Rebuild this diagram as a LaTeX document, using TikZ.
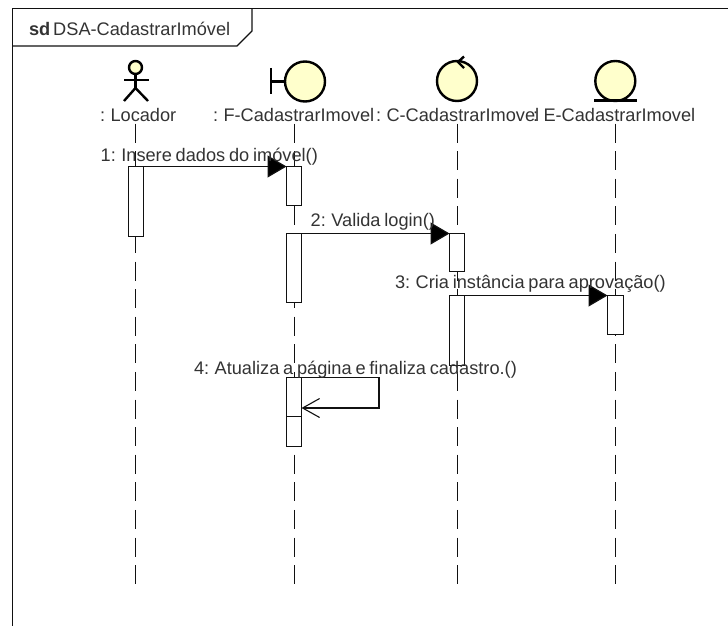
\documentclass[tikz,border=0pt]{standalone}
\usepackage{fontspec}
\setmainfont[WordSpace=0.75]{Liberation Sans}
\usetikzlibrary{arrows.meta}
\definecolor{umlfill}{HTML}{FFFFCC}
\definecolor{umlink}{HTML}{111111}
\definecolor{umltext}{HTML}{333333}
\tikzset{
  frameline/.style={draw=umlink,line width=1.3pt},
  lbl/.style={anchor=base west,inner sep=0pt,outer sep=0pt,text=umltext,font=\fontsize{18.2}{20}\selectfont},
  lifeline/.style={draw=umlink,line width=1.2pt,dash pattern=on 19pt off 8.6pt},
  act/.style={draw=umlink,fill=white,line width=1.1pt,minimum width=15pt,inner sep=0pt,outer sep=0pt,rectangle},
  msg/.style={draw=umlink,line width=1.2pt,-{Triangle[length=19pt,width=22pt,fill=black]}},
  selfmsg/.style={draw=umlink,line width=1.2pt,-{Straight Barb[length=17pt,width=19pt,line width=1.1pt]}},
  icon/.style={draw=black,fill=umlfill,line width=2.4pt,circle,minimum size=40pt,inner sep=0pt,outer sep=0pt},
  stroke/.style={draw=black,line width=2.4pt},
  headicon/.style={draw=black,fill=umlfill,line width=2.4pt,circle,minimum size=13pt,inner sep=0pt,outer sep=0pt},
}
\begin{document}
\begin{tikzpicture}[x=1pt,y=-1pt]
\useasboundingbox (0,0) rectangle (728,626);
% frame
\coordinate (fbl) at (12.5,626);
\coordinate (ftl) at (12.5,8.5);
\coordinate (ftr) at (728,8.5);
\coordinate (tabtop) at (252,8.5);
\coordinate (tabmid) at (252,31);
\coordinate (tabcut) at (237,46);
\coordinate (tableft) at (12.5,46);
\draw[frameline] (fbl) -- (ftl) -- (ftr);
\draw[frameline] (tabtop) -- (tabmid) -- (tabcut) -- (tableft);
\node[lbl] (title) at (29,36) {\textbf{sd}\kern3pt DSA-CadastrarImóvel};
% lifeline ends
\coordinate (l1a) at (135.5,123.5); \coordinate (l1b) at (135.5,585);
\coordinate (l2a) at (294.5,123.5); \coordinate (l2b) at (294.5,585);
\coordinate (l3a) at (457.5,123.5); \coordinate (l3b) at (457.5,585);
\coordinate (l4a) at (615.5,123.5); \coordinate (l4b) at (615.5,585);
\draw[lifeline] (l1a) -- (l1b);
\draw[lifeline] (l2a) -- (l2b);
\draw[lifeline] (l3a) -- (l3b);
\draw[lifeline] (l4a) -- (l4b);
% actor
\node[headicon] (head) at (135.5,67.5) {};
\coordinate (hip) at (135.5,88);
\coordinate (armL) at (124,80);
\coordinate (armR) at (149,80);
\coordinate (legL) at (124,101);
\coordinate (legR) at (148,101);
\draw[stroke] (head.south) -- (hip);
\draw[stroke] (armL) -- (armR);
\draw[stroke] (legL) -- (hip) -- (legR);
% boundary
\node[icon] (bnd) at (305,81.5) {};
\coordinate (bndT) at (271,68);
\coordinate (bndB) at (271,93.5);
\coordinate (bndM) at (271,81.5);
\draw[stroke] (bndT) -- (bndB);
\draw[stroke] (bndM) -- (bnd.west);
% control
\node[icon] (ctl) at (457,81) {};
\coordinate (ctlA) at (464,56.5);
\coordinate (ctlB) at (458,62);
\coordinate (ctlC) at (464,68);
\draw[stroke] (ctlA) -- (ctlB) -- (ctlC);
% entity
\node[icon] (ent) at (615.3,81) {};
\coordinate (entL) at (594,100.5);
\coordinate (entR) at (636.5,100.5);
\draw[stroke] (entL) -- (entR);
% lifeline names
\node[lbl] (n1) at (100,121.7) {: Locador};
\node[lbl] (n2) at (213,121.7) {: F-CadastrarImovel};
\node[lbl] (n3) at (376,121.7) {: C-CadastrarImovel};
\node[lbl] (n4) at (533,121.7) {: E-CadastrarImovel};
% activations
\node[act,minimum height=70pt] (a1) at (136,201.5) {};
\node[act,minimum height=39pt] (f1) at (294,186) {};
\node[act,minimum height=69pt] (f2) at (294,268) {};
\node[act,minimum height=39pt] (f3) at (294,397) {};
\node[act,minimum height=30pt] (f4) at (294,431.5) {};
\node[act,minimum height=38pt] (c1) at (457,252.5) {};
\node[act,minimum height=70pt] (c2) at (457,330.5) {};
\node[act,minimum height=39pt,minimum width=16pt] (e1) at (615.5,315) {};
% messages
\draw[msg] (a1.north east) -- (f1.north west);
\draw[msg] (f2.north east) -- (c1.north west);
\draw[msg] (c2.north east) -- (e1.north west);
\coordinate (s1) at (379,377.5);
\coordinate (s2) at (379,408);
\draw[selfmsg] (f3.north east) -- (s1) -- (s2) -- (s2 -| f3.east);
% message labels
\node[lbl] (m1) at (100.7,161.7) {1: Insere dados do imóvel()};
\node[lbl] (m2) at (310.7,226) {2: Valida login()};
\node[lbl] (m3) at (395,288) {3: Cria instância para aprovação()};
\node[lbl] (m4) at (194,374) {4: Atualiza a página e finaliza cadastro.()};
\end{tikzpicture}
\end{document}
